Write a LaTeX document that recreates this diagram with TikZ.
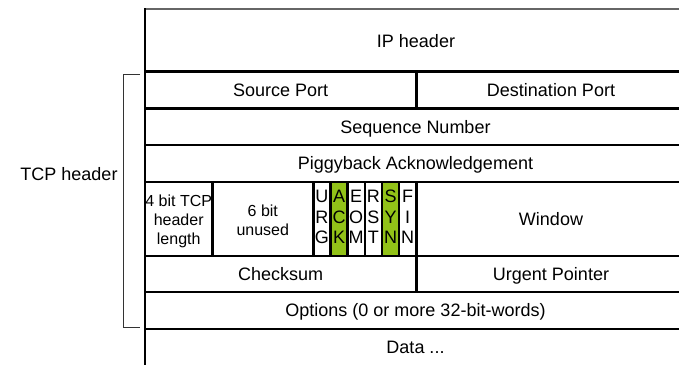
\documentclass[tikz,border=0pt]{standalone}
\usepackage{fontspec}
\setmainfont{Liberation Sans}
\definecolor{flaggreen}{RGB}{146,194,24}
\begin{document}
\begin{tikzpicture}[x=1pt,y=-1pt,
  gridline/.style={line width=2.4pt, black},
  topline/.style={line width=1.4pt, black!60},
  bracketline/.style={line width=1pt, black!80},
  lbl/.style={font=\fontsize{18}{20}\selectfont, inner sep=0pt, text height=12.9pt, text depth=0pt},
  smalltxt/.style={font=\fontsize{16}{19}\selectfont, inner sep=0pt, align=center, text depth=0pt},
  flagtxt/.style={font=\fontsize{18}{20.5}\selectfont, inner sep=0pt, align=center, text depth=0pt},
]
\useasboundingbox (0,0) rectangle (679,364);
\clip (0,0) rectangle (679,364);
% green flag cells
\fill[flaggreen] (330.5,182) rectangle (347.6,256);
\fill[flaggreen] (382,182) rectangle (399.1,256);
% horizontal lines
\draw[topline] (145,9) -- (690,9);
\draw[gridline, line width=3.2pt] (145,71.7) -- (690,71.7);
\draw[gridline] (145,108.3) -- (690,108.3);
\draw[gridline] (145,145) -- (690,145);
\draw[gridline] (145,182) -- (690,182);
\draw[gridline] (145,256) -- (690,256);
\draw[gridline] (145,292) -- (690,292);
\draw[gridline] (145,329) -- (690,329);
% vertical lines
\draw[gridline, line width=2.8pt] (145,8.4) -- (145,370);
\draw[gridline] (416.3,71.7) -- (416.3,108.3);
\foreach \xx in {212.3,313.3,330.5,347.6,364.8,382,399.1,416.3}
  \draw[gridline] (\xx,182) -- (\xx,256);
\draw[gridline] (416.3,256) -- (416.3,292);
% texts
\node[lbl] (ip) at (416,41) {IP header};
\node[lbl] (src) at (280.6,90) {Source Port};
\node[lbl] (dst) at (551,90) {Destination Port};
\node[lbl] (seq) at (415.5,126.7) {Sequence Number};
\node[lbl] (ack) at (415.5,163.5) {Piggyback Acknowledgement};
\node[smalltxt] (hlen) at (178.7,220) {4 bit TCP\\header\\length};
\node[smalltxt] (unused) at (262.8,220) {6 bit\\unused};
\node[flagtxt] (urg) at (321.9,217) {U\\R\\G};
\node[flagtxt] (fack) at (339,217) {A\\C\\K};
\node[flagtxt] (ece) at (356.2,217) {E\\O\\M};
\node[flagtxt] (rst) at (373.4,217) {R\\S\\T};
\node[flagtxt] (syn) at (390.5,217) {S\\Y\\N};
\node[flagtxt] (fin) at (407.7,217) {F\\I\\N};
\node[lbl] (win) at (551,219) {Window};
\node[lbl] (chk) at (280.6,274) {Checksum};
\node[lbl] (urp) at (551,274) {Urgent Pointer};
\node[lbl] (opt) at (415.5,310.5) {Options (0 or more 32-bit-words)};
\node[lbl] (data) at (415.5,347.5) {Data ...};
% bracket
\coordinate (bt) at (140,74);
\coordinate (bb) at (140,327);
\draw[bracketline] (bt) -- (123,74) -- (123,327) -- (bb);
\node[lbl] (tcp) at (69,174) {TCP header};
\end{tikzpicture}
\end{document}
